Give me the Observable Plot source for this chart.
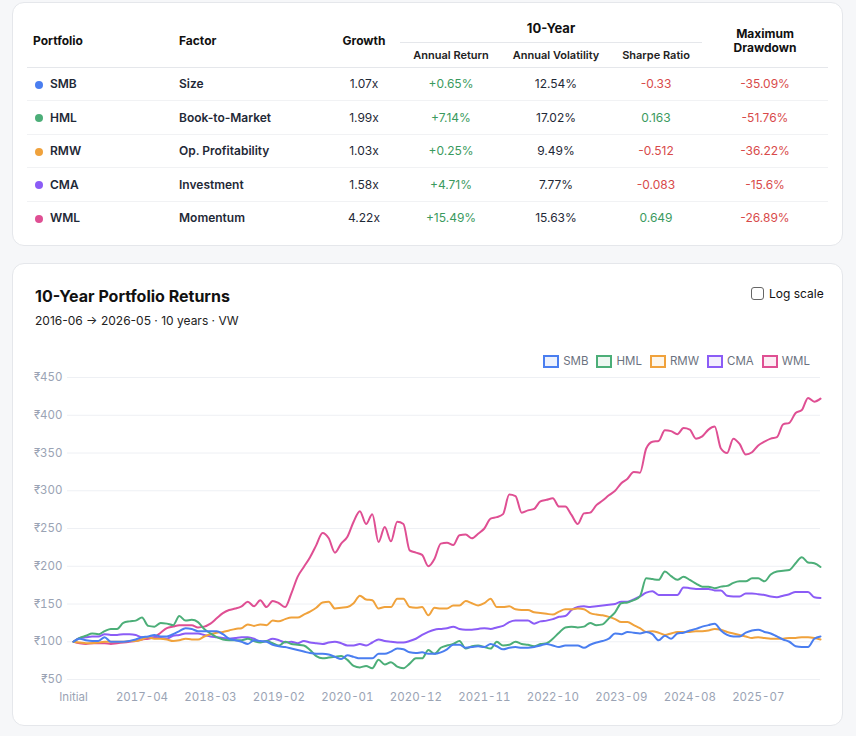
<!DOCTYPE html>
<html><head><meta charset="utf-8">
<script src="https://cdn.jsdelivr.net/npm/d3@7"></script>
<script src="https://cdn.jsdelivr.net/npm/@observablehq/plot@0.6"></script>
<style>
body{margin:0;width:856px;height:736px;background:#f6f7f9;font-family:Inter,"Noto Sans",sans-serif;position:relative;overflow:hidden;color:#111}
.card{position:absolute;left:12px;width:831px;background:#fff;border:1px solid #e5e7eb;border-radius:12px;box-sizing:border-box}
table{position:absolute;left:14px;top:8px;width:801px;border-collapse:collapse;table-layout:fixed;font-size:12px}
th{font-weight:700;color:#111;padding:0}
thead tr.r1 th{height:29px}
thead tr.r2 th{height:23.5px;font-size:11px;font-weight:600;color:#222}
th.grp{border-bottom:1px solid #e5e7eb;font-size:13px;vertical-align:middle;padding-top:2px}
thead tr.r2 th{border-bottom:1px solid #e5e7eb}
th.span2{border-bottom:1px solid #e5e7eb;padding-top:4px}
tbody td{height:32.5px;border-bottom:1px solid #f1f2f4;padding:0;color:#1f2937}
tbody tr:last-child td{border-bottom:none}
.dot{display:inline-block;width:8px;height:8px;border-radius:50%;margin:0 7px 0 2px;vertical-align:-0.5px}
.c{text-align:center}
.pos{color:#3a9a5e}.neg{color:#d84a4a}
.title{position:absolute;left:35px;top:286px;font-size:16px;font-weight:700;color:#111}
.sub{position:absolute;left:35px;top:313px;font-size:12px;color:#222}
.log{position:absolute;left:751px;top:286px;font-size:12px;color:#111;display:flex;align-items:center}
.log span.box{width:11px;height:11px;border:1px solid #666;border-radius:3px;margin-right:5px;display:inline-block}
.legend{position:absolute;right:46px;top:354px;display:flex;gap:8px;font-size:11.5px;color:#6b7280}
.legend .it{display:flex;align-items:center}
.legend .sw{width:12px;height:9px;border:2px solid;margin-right:4px}
#chart{position:absolute;left:13px;top:369px}
</style></head>
<body>
<div class="card" style="top:2px;height:244px"><table id="tbl"></table></div>
<div class="card" style="top:263px;height:463px"></div>
<div class="title">10-Year Portfolio Returns</div>
<div class="sub">2016-06 → 2026-05 · 10 years · VW</div>
<div class="log"><span class="box"></span>Log scale</div>
<div class="legend" id="legend"></div>
<div id="chart"></div>
<script>
const portfolios = ["SMB","HML","RMW","CMA","WML"];
const factors = ["Size","Book-to-Market","Op. Profitability","Investment","Momentum"];
const colors = ["#4a7ef0","#4cae78","#f0a23c","#8b5cf6","#df4f93"];
const growth = ["1.07x","1.99x","1.03x","1.58x","4.22x"];
const annReturn = ["+0.65%","+7.14%","+0.25%","+4.71%","+15.49%"];
const annVol = ["12.54%","17.02%","9.49%","7.77%","15.63%"];
const sharpe = ["-0.33","0.163","-0.512","-0.083","0.649"];
const maxDD = ["-35.09%","-51.76%","-36.22%","-15.6%","-26.89%"];

const tickLabels = ["Initial","2017-04","2018-03","2019-02","2020-01","2020-12","2021-11","2022-10","2023-09","2024-08","2025-07"];
const yTicks = [50,100,150,200,250,300,350,400,450];

const SMB = [100,104,102,101,101,106,100,100,100,101,103,106,107,109,107,107,110,114,118,117,114,114,114,114,110,104,102,100,97,102,101,100,96,94,93,91,89,87,85,84,84,83,80,77,82,80,78,78,78,84,84,87,91,90,86,85,86,84,84,86,90,96,96,92,93,94,93,97,94,90,92,93,92,92,93,95,97,95,93,95,95,95,92,96,99,101,104,111,110,113,112,111,113,110,102,108,104,111,112,115,117,120,122,124,115,109,107,107,112,115,116,113,111,107,103,100,94,93,93,104,107];
const HML = [100,105,108,111,110,114,117,117,125,127,128,132,121,120,125,124,122,134,128,129,126,117,111,106,103,102,102,102,104,101,99,101,98,95,100,97,96,95,89,81,78,79,80,81,76,68,66,68,65,76,70,73,67,65,71,78,78,89,84,92,95,97,101,91,94,95,93,91,100,95,96,100,97,96,94,97,98,104,112,119,120,119,120,125,122,123,131,139,151,152,155,160,184,183,182,193,187,182,186,182,177,173,173,171,173,174,178,180,180,184,184,180,189,193,194,195,204,212,205,204,199];
const RMW = [100,99,98,98,99,100,100,100,100,101,101,103,106,104,104,103,101,102,104,103,103,107,110,112,113,115,117,118,123,121,123,122,128,127,130,132,132,136,140,145,152,153,144,145,146,151,161,156,155,144,146,146,157,157,146,145,146,135,145,144,144,148,148,154,151,148,151,157,146,146,147,143,142,142,139,138,137,136,140,143,143,144,143,138,136,135,133,130,126,126,122,118,113,114,112,109,111,113,113,113,114,114,115,117,116,113,111,109,107,105,106,105,104,104,104,105,105,106,106,105,103];
const CMA = [100,105,106,107,107,110,109,109,110,110,109,106,106,106,105,104,108,109,111,111,111,109,107,106,105,104,105,106,106,104,100,101,104,102,99,100,98,101,99,98,97,99,100,98,95,95,97,95,99,103,101,100,99,99,101,104,109,113,116,117,118,120,117,116,116,117,118,117,119,121,126,128,128,128,124,127,128,130,133,134,142,146,147,146,147,148,149,150,153,153,156,160,165,167,162,162,162,162,172,171,170,170,170,168,168,161,160,160,164,164,163,162,160,159,161,163,166,166,166,159,158];
const WML = [100,98,97,98,98,98,97,98,99,100,101,103,104,106,112,118,120,122,122,122,119,120,124,131,138,142,144,147,153,147,155,146,154,151,146,164,186,199,212,228,244,237,218,230,239,259,273,256,269,232,252,233,259,256,221,218,215,200,210,230,231,228,241,242,237,243,250,263,265,269,295,293,271,274,276,286,288,290,279,279,268,256,270,271,281,287,294,300,310,316,325,324,356,365,366,380,379,375,383,381,369,372,381,385,356,350,369,362,348,351,360,365,369,371,388,390,403,407,423,418,422];
const series = [SMB,HML,RMW,CMA,WML];

// month categories: Initial, 2016-06 ... 2026-05
const months = ["Initial", ...d3.utcMonths(new Date(Date.UTC(2016,5,1)), new Date(Date.UTC(2026,5,1))).map(d3.utcFormat("%Y-%m"))];
const tickIndex = tickLabels.map(l => months.indexOf(l));

// table
const tbl = document.getElementById("tbl");
let h = `<colgroup><col style="width:136px"><col style="width:165px"><col style="width:72px"><col style="width:102px"><col style="width:108px"><col style="width:92px"><col style="width:126px"></colgroup>
<thead><tr class="r1"><th rowspan="2" class="span2" style="text-align:left;padding-left:6px">Portfolio</th><th rowspan="2" class="span2" style="text-align:left;padding-left:16px">Factor</th><th rowspan="2" class="span2 c">Growth</th><th colspan="3" class="grp c">10-Year</th><th rowspan="2" class="span2 c" style="line-height:14px;padding-top:5px">Maximum<br>Drawdown</th></tr>
<tr class="r2"><th class="c">Annual Return</th><th class="c">Annual Volatility</th><th class="c">Sharpe Ratio</th></tr></thead><tbody>`;
portfolios.forEach((p,i)=>{
  const sc = parseFloat(sharpe[i])<0?"neg":"pos";
  h += `<tr><td style="padding-left:6px;font-weight:600"><span class="dot" style="background:${colors[i]}"></span>${p}</td><td style="padding-left:16px;font-weight:600">${factors[i]}</td><td class="c">${growth[i]}</td><td class="c pos">${annReturn[i]}</td><td class="c">${annVol[i]}</td><td class="c ${sc}">${sharpe[i]}</td><td class="c neg">${maxDD[i]}</td></tr>`;
});
tbl.innerHTML = h + "</tbody>";

// legend
document.getElementById("legend").innerHTML = portfolios.map((p,i)=>{
  const c = d3.color(colors[i]); c.opacity = 0.1;
  return `<div class="it"><span class="sw" style="border-color:${colors[i]};background:${c}"></span>${p}</div>`;
}).join("");

// long data
const data = [];
portfolios.forEach((p,k)=>series[k].forEach((v,i)=>data.push({portfolio:p, idx:i, month:months[i], value:v})));
const order = ["WML","CMA","RMW","HML","SMB"];

const chart = Plot.plot({
  width: 820, height: 340,
  marginLeft: 60, marginRight: 13, marginTop: 8, marginBottom: 30,
  style: {fontFamily: "Inter, 'Noto Sans', sans-serif", fontSize: "11.5px", color: "#9aa3b4", background: "transparent"},
  x: {domain: [0, months.length - 1], label: null},
  y: {domain: [50, 450], label: null},
  marks: [
    Plot.ruleY(yTicks, {stroke: "#eef0f4", strokeWidth: 1, insetLeft: -6}),
    Plot.axisY(yTicks, {tickSize: 0, tickPadding: 11, tickFormat: d => "₹" + d, fill: "#9aa3b4"}),
    Plot.axisX(tickIndex, {tickSize: 0, tickPadding: 13, tickFormat: i => months[i], fill: "#9aa3b4"}),
    ...order.map(p => Plot.lineY(data.filter(d => d.portfolio === p), {x: "idx", y: "value", stroke: colors[portfolios.indexOf(p)], strokeWidth: 2, curve: "monotone-x"}))
  ]
});
document.getElementById("chart").appendChild(chart);
</script>
</body></html>
